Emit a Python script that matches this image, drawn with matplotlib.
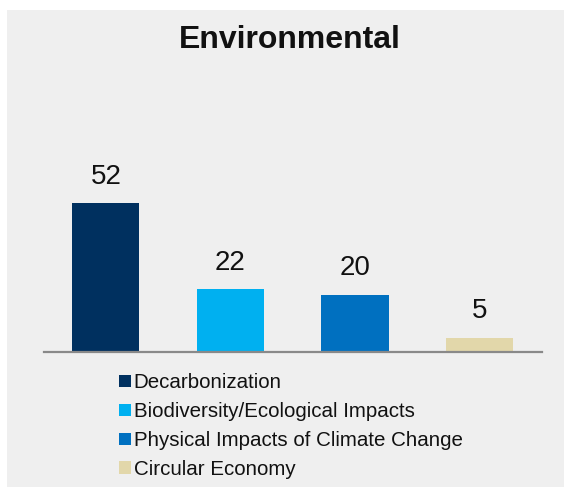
import matplotlib
matplotlib.use('Agg')
import matplotlib.pyplot as plt
from matplotlib.patches import Rectangle, Patch

plt.rcParams['font.family'] = ['Liberation Sans', 'DejaVu Sans']

categories = ['Decarbonization', 'Biodiversity/Ecological Impacts',
              'Physical Impacts of Climate Change', 'Circular Economy']
counts = [52, 22, 20, 5]
colors = ['#00305F', '#00B0F0', '#0070C0', '#E2D7AA']
title = 'Environmental'

W, H = 564, 487
fig = plt.figure(figsize=(W / 100, H / 100), dpi=100, facecolor='white')

# light grey card behind everything
fig.patches.append(Rectangle((7 / W, 0), 1 - 7 / W, 1 - 10 / H,
                             transform=fig.transFigure, facecolor='#EFEFEF',
                             edgecolor='none', zorder=-10))

ax = fig.add_axes([43.5 / W, (H - 352) / H, 498.5 / W, 172 / H])
ax.set_facecolor('none')
x = list(range(len(counts)))
bars = ax.bar(x, counts, width=0.54, color=colors, zorder=2)
ax.set_xlim(-0.5, 3.5)
ax.set_ylim(0, 60)

for b, v in zip(bars, counts):
    ax.annotate(str(v), (b.get_x() + b.get_width() / 2, v),
                xytext=(0, 9.5), textcoords='offset points',
                ha='center', va='bottom', fontsize=20, color='#111111')

for s in ['top', 'left', 'right']:
    ax.spines[s].set_visible(False)
ax.spines['bottom'].set_color('#898989')
ax.spines['bottom'].set_linewidth(1.6)
ax.set_xticks([])
ax.set_yticks([])

fig.text(290 / W, 1 - 40.5 / H, title, ha='center', va='center',
         fontsize=23, fontweight='bold', color='#111111')

handles = [Patch(facecolor=c, edgecolor='none') for c in colors]
fig.legend(handles, categories, loc='upper left',
           bbox_to_anchor=(109 / W, 1 - 363 / H), frameon=False,
           fontsize=14.8, handlelength=0.55, handleheight=0.55,
           handletextpad=0.15, labelspacing=0.48, borderpad=0,
           labelcolor='#111111')

fig.savefig('out.png', dpi=100, facecolor=fig.get_facecolor())
